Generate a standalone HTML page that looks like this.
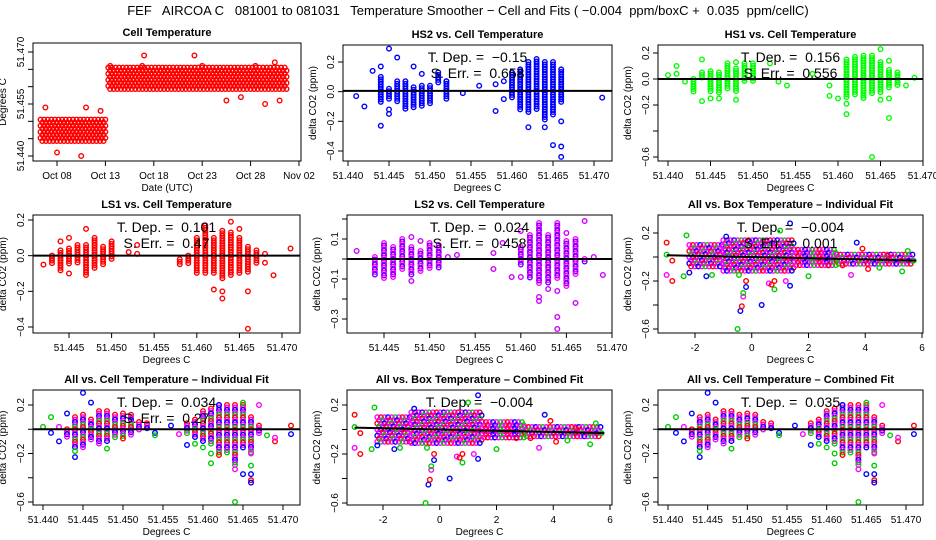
<!DOCTYPE html>
<html><head><meta charset="utf-8"><style>
body{margin:0;background:#fff}
svg{display:block;font-family:"Liberation Sans",sans-serif}
text{white-space:pre}
</style></head><body>
<svg id="c" width="936" height="540" viewBox="0 0 936 540">
<text x="468" y="15" text-anchor="middle" font-size="13">FEF   AIRCOA C   081001 to 081031   Temperature Smoother − Cell and Fits ( −0.004  ppm/boxC +  0.035  ppm/cellC)</text>
</svg>
<script>
// ---------- data ----------
const p1Bands=[[6.3,13.1,51.4435,51.4505],[13.3,31.8,51.4585,51.4655]];
const p1Pts=[[8,51.441],[10.5,51.440],[11,51.454],[6.8,51.454],[12.5,51.453],[17,51.469],[22.2,51.469],[13.5,51.466],[16.8,51.466],[23,51.466],[25.5,51.456],[27,51.457],[29.5,51.455],[30.5,51.467],[31,51.456],[28.5,51.466]];
const hs2Cols=[[51.444,-0.07,0.1],[51.445,-0.05,0.02],[51.446,-0.07,0.07],[51.447,-0.12,0.07],[51.448,-0.11,0.03],[51.449,-0.1,0.04],[51.450,-0.08,0.04],[51.451,0.05,0.13],[51.452,-0.05,0.07],[51.460,-0.05,0.13],[51.461,-0.12,0.15],[51.462,-0.15,0.2],[51.463,-0.13,0.22],[51.464,-0.2,0.2],[51.465,-0.16,0.2],[51.466,-0.08,0.15]];
const hs2Pts=[[51.441,-0.03],[51.442,-0.1],[51.443,0.14],[51.444,0.17],[51.444,-0.23],[51.445,0.29],[51.445,-0.15],[51.445,-0.12],[51.446,0.23],[51.448,0.17],[51.449,0.12],[51.452,0.07],[51.454,-0.01],[51.456,0.04],[51.458,-0.13],[51.458,0.05],[51.459,0.07],[51.459,-0.05],[51.462,-0.24],[51.464,-0.24],[51.465,-0.36],[51.466,-0.37],[51.466,-0.44],[51.466,-0.2],[51.471,-0.04]];
const hs1Cols=[[51.443,-0.1,0],[51.444,0,0.05],[51.445,-0.1,0.06],[51.446,-0.12,0.05],[51.447,-0.08,0.12],[51.448,-0.1,0.08],[51.449,-0.03,0.12],[51.450,-0.03,0.12],[51.461,-0.14,0.15],[51.462,-0.13,0.17],[51.463,-0.15,0.18],[51.464,-0.12,0.18],[51.465,-0.1,0.13],[51.466,-0.07,0.07],[51.467,-0.06,0.05]];
const hs1Pts=[[51.440,0.03],[51.441,0.1],[51.441,0.04],[51.442,-0.02],[51.444,0.15],[51.444,-0.17],[51.445,-0.15],[51.446,-0.15],[51.448,-0.16],[51.448,0.13],[51.452,0.12],[51.453,-0.02],[51.454,-0.05],[51.457,0.04],[51.459,-0.13],[51.459,-0.05],[51.460,-0.15],[51.461,-0.19],[51.461,-0.27],[51.464,-0.6],[51.465,0.23],[51.465,-0.16],[51.466,-0.3],[51.466,0.14],[51.466,-0.15],[51.468,-0.05],[51.469,0.01]];
const ls1Cols=[[51.443,-0.05,0],[51.444,-0.09,0.03],[51.445,-0.05,0.04],[51.446,-0.05,0.06],[51.447,-0.12,0.06],[51.448,-0.08,0.1],[51.449,-0.05,0.05],[51.450,-0.03,0.08],[51.458,-0.06,-0.02],[51.459,-0.05,0],[51.460,-0.1,0.1],[51.461,-0.1,0.17],[51.462,-0.1,0.1],[51.463,-0.13,0.14],[51.464,-0.12,0.13],[51.465,-0.1,0.1],[51.466,-0.1,0.05],[51.467,-0.04,0.03]];
const ls1Pts=[[51.442,-0.05],[51.444,0.08],[51.445,0.1],[51.445,-0.1],[51.447,0.15],[51.452,0.02],[51.453,0.06],[51.453,0.01],[51.462,-0.19],[51.463,-0.2],[51.463,-0.24],[51.464,0.19],[51.465,0.15],[51.466,-0.2],[51.466,-0.41],[51.468,0.01],[51.468,-0.04],[51.469,-0.11],[51.471,0.04]];
const ls2Cols=[[51.444,-0.08,0.01],[51.445,-0.1,0.08],[51.446,-0.1,0.06],[51.447,-0.06,0.1],[51.448,-0.08,0.06],[51.449,-0.07,0.04],[51.450,-0.05,0.08],[51.451,-0.05,0.07],[51.460,-0.03,0.06],[51.461,-0.1,0.12],[51.462,-0.12,0.18],[51.463,-0.12,0.12],[51.464,-0.1,0.18],[51.465,-0.14,0.09],[51.466,-0.08,0.1],[51.467,-0.02,0]];
const ls2Pts=[[51.442,0.04],[51.448,0.11],[51.448,-0.11],[51.449,0.09],[51.452,0.01],[51.453,0.02],[51.457,0.03],[51.457,-0.05],[51.458,0.08],[51.459,-0.09],[51.460,-0.09],[51.460,0.14],[51.462,-0.19],[51.462,-0.21],[51.463,-0.15],[51.464,-0.16],[51.464,-0.29],[51.464,-0.35],[51.465,0.13],[51.466,-0.22],[51.467,0.19],[51.468,0.01],[51.469,-0.08]];
const allCols=[[51.443,-0.08,0],[51.444,-0.15,0.1],[51.445,-0.15,0.12],[51.446,-0.1,0.08],[51.447,-0.12,0.15],[51.448,-0.1,0.15],[51.449,-0.08,0.12],[51.450,-0.08,0.13],[51.451,-0.05,0.12],[51.452,-0.02,0.06],[51.453,0,0.05],[51.458,-0.05,0.05],[51.459,-0.08,0.08],[51.460,-0.1,0.15],[51.461,-0.12,0.17],[51.462,-0.22,0.2],[51.463,-0.2,0.2],[51.464,-0.3,0.2],[51.465,-0.17,0.2],[51.466,-0.2,0.1],[51.467,-0.05,0.03]];
const allPts=[[51.440,0.02,1],[51.441,0.1,1],[51.441,-0.03,2],[51.442,-0.1,2],[51.442,0.02,3],[51.443,0.13,2],[51.444,-0.18,1],[51.444,-0.23,2],[51.445,0.3,2],[51.446,0.22,2],[51.448,-0.16,1],[51.454,-0.03,2],[51.454,-0.05,1],[51.456,0.03,2],[51.457,-0.04,3],[51.458,-0.13,2],[51.459,-0.12,1],[51.460,-0.15,1],[51.461,-0.28,1],[51.461,-0.2,1],[51.464,-0.33,3],[51.464,-0.6,1],[51.465,-0.37,2],[51.466,-0.37,2],[51.466,-0.42,0],[51.466,-0.44,2],[51.466,-0.3,1],[51.466,-0.2,3],[51.467,0.2,3],[51.468,-0.05,1],[51.469,-0.1,0],[51.469,-0.07,3],[51.471,0.03,0],[51.471,-0.04,2],[51.462,0.2,2],[51.465,0.22,1]];
const boxBands=[[-2.2,-1,-0.1,0.1],[-1,1.5,-0.12,0.14],[1.5,3,-0.08,0.06],[3,5.7,-0.06,0.02]];
const boxPts=[[-3,0.12,0],[-3,0.02,1],[-3,-0.15,3],[-2.8,-0.2,0],[-2.8,-0.03,0],[-2.4,-0.16,1],[-2.3,0.18,1],[-2.2,-0.13,2],[-1.6,-0.16,2],[-1.4,-0.15,1],[-0.9,0.17,2],[-0.5,-0.6,1],[-0.45,-0.15,1],[-0.4,-0.45,2],[-0.35,-0.41,0],[-0.3,-0.33,3],[-0.3,-0.3,1],[-0.2,-0.25,2],[-0.2,-0.2,0],[0.35,-0.4,2],[0.6,-0.22,3],[0.7,-0.23,0],[0.8,-0.2,0],[0.8,-0.27,1],[1.2,-0.2,3],[1.35,0.28,2],[1.35,-0.24,2],[1.0,0.22,1],[2,-0.16,1],[3.5,-0.15,3],[3.7,0.12,2],[3.9,0.07,0],[4.1,-0.1,0],[4.5,-0.09,1],[4.8,0.01,0],[5.3,-0.12,1],[5.5,0.05,1],[5.7,-0.03,1],[2.7,-0.07,0],[3.2,-0.07,0]];
const boxLine=[[-3,0.015],[5.8,-0.03]];
const dateTicks=[8,13,18,23,28,33];
const dateLabels=["Oct 08","Oct 13","Oct 18","Oct 23","Oct 28","Nov 02"];
const cellTicks=[51.440,51.445,51.450,51.455,51.460,51.465,51.470];
const boxTicks=[-2,0,2,4,6];
const colors=["#f00","#0c0","#00f","#f0f"];

// ---------- drawing ----------
const svg=document.getElementById('c');
const NS='http://www.w3.org/2000/svg';
function el(tag,at,parent){const e=document.createElementNS(NS,tag);for(const k in at)e.setAttribute(k,at[k]);(parent||svg).appendChild(e);return e;}
function panel(cfg){
  const g=el('g',{});
  
  
  const X=v=>cfg.xp[0]+(v-cfg.xd[0])*(cfg.xp[1]-cfg.xp[0])/(cfg.xd[1]-cfg.xd[0]);
  const Y=v=>cfg.yp[0]+(v-cfg.yd[0])*(cfg.yp[1]-cfg.yp[0])/(cfg.yd[1]-cfg.yd[0]);
  cfg.X=X;cfg.Y=Y;cfg.g=g;
  const t=el('text',{x:(cfg.L+cfg.R)/2,y:cfg.T-7,'text-anchor':'middle','font-size':11,'font-weight':'bold'},g);
  t.textContent=cfg.title;
  
  
  const b=el('rect',{x:cfg.L,y:cfg.T,width:cfg.R-cfg.L,height:cfg.B-cfg.T,fill:'none',stroke:'#000','stroke-width':1},g);
  
  
  const xt=cfg.xticks;
  el('line',{x1:X(xt[0]),x2:X(xt[xt.length-1]),y1:cfg.B,y2:cfg.B,stroke:'#000'},g);
  xt.forEach((v,i)=>{
    el('line',{x1:X(v),x2:X(v),y1:cfg.B,y2:cfg.B+5,stroke:'#000'},g);
    const l=el('text',{x:X(v),y:cfg.B+18,'text-anchor':'middle','font-size':10},g);
    l.textContent=cfg.xlab?cfg.xlab[i]:v.toFixed(cfg.xdec);
    
    
  });
  const xa=el('text',{x:(cfg.L+cfg.R)/2,y:cfg.B+30,'text-anchor':'middle','font-size':10},g);
  xa.textContent=cfg.xtitle;
  
  
  const yt=cfg.yticks;
  el('line',{x1:cfg.L,x2:cfg.L,y1:Y(yt[0]),y2:Y(yt[yt.length-1]),stroke:'#000'},g);
  yt.forEach((v,i)=>{
    el('line',{x1:cfg.L-5,x2:cfg.L,y1:Y(v),y2:Y(v),stroke:'#000'},g);
    if(cfg.ylab[i]){
      const yy=Y(v),xx=cfg.L-9;
      const l=el('text',{x:xx,y:yy,'text-anchor':'middle','font-size':10,transform:`rotate(-90 ${xx} ${yy})`},g);
      l.textContent=cfg.ylab[i];
      
      
    }
  });
  const yx=cfg.L-27,yy=(cfg.T+cfg.B)/2;
  const ya=el('text',{x:yx,y:yy,'text-anchor':'middle','font-size':10,transform:`rotate(-90 ${yx} ${yy})`},g);
  ya.textContent=cfg.ytitle;
  
  
  return cfg;
}
function dot(cfg,x,y,col){
  const c=el('circle',{cx:x,cy:y,r:2.3,fill:'none',stroke:col,'stroke-width':1.4},cfg.g);
  
  
}
function pts(cfg,arr,col){arr.forEach(p=>dot(cfg,cfg.X(p[0]),cfg.Y(p[1]),p.length>2?colors[p[2]]:col));}
function cols(cfg,arr,cl){
  arr.forEach(c=>{
    const x=cfg.X(c[0]);const y0=cfg.Y(c[2]),y1=cfg.Y(c[1]);
    let k=0;for(let y=y0;y<=y1+0.1;y+=2.5,k++)dot(cfg,x,y,Array.isArray(cl)?cl[k%cl.length]:cl);
  });
}
function bands(cfg,arr,cl,step){
  step=step||3.5;
  arr.forEach(b=>{
    const x0=cfg.X(b[0]),x1=cfg.X(b[1]),y0=cfg.Y(b[3]),y1=cfg.Y(b[2]);
    let k=0,row=0;
    for(let y=y0;y<=y1;y+=step*0.85,row++){
      for(let x=x0+(row%2?step/2:0);x<=x1;x+=step,k++)dot(cfg,x,y,Array.isArray(cl)?cl[k%cl.length]:cl);
    }
  });
}
function hline(cfg,y,w){
  const l=el('line',{x1:cfg.L,x2:cfg.R,y1:cfg.Y(y),y2:cfg.Y(y),stroke:'#000','stroke-width':w||2},cfg.g);
  
  
}
function fitline(cfg,seg){
  const l=el('line',{x1:cfg.X(seg[0][0]),x2:cfg.X(seg[1][0]),y1:cfg.Y(seg[0][1]),y2:cfg.Y(seg[1][1]),stroke:'#000','stroke-width':2},cfg.g);
  
  
}
function note(cfg,lines){
  lines.forEach((s,i)=>{
    const t=el('text',{x:(cfg.L+cfg.R)/2,y:cfg.T+17+i*16,'text-anchor':'middle','font-size':14},cfg.g);
    t.textContent=s;
    
    
  });
}
const Y2=["0.2","0.0","−0.2","−0.4"], Y6=["0.2","","−0.2","","−0.6"], yT6=[0.2,0,-0.2,-0.4,-0.6];
let p=panel({name:'cell-temperature-panel',title:'Cell Temperature',L:33,R:301,T:43,B:161,xd:[8,33],xp:[57,299],yd:[51.470,51.440],yp:[52,156],
  xticks:dateTicks,xlab:dateLabels,xtitle:'Date (UTC)',yticks:cellTicks,ylab:["51.440","","","51.455","","","51.470"],ytitle:'Degrees C'});
bands(p,p1Bands,'#f00',3.6);pts(p,p1Pts,'#f00');
p=panel({name:'hs2-panel',title:'HS2 vs. Cell Temperature',L:343,R:612,T:45,B:161,xd:[51.440,51.470],xp:[348,594],yd:[0.2,-0.4],yp:[62,151],
  xticks:cellTicks,xdec:3,xtitle:'Degrees C',yticks:[0.2,0,-0.2,-0.4],ylab:Y2,ytitle:'delta CO2 (ppm)'});
cols(p,hs2Cols,'#00f');pts(p,hs2Pts,'#00f');hline(p,0.005);note(p,['T. Dep. =  −0.15','S. Err. =  0.658']);
p=panel({name:'hs1-panel',title:'HS1 vs. Cell Temperature',L:658,R:923,T:45,B:161,xd:[51.440,51.470],xp:[668,923],yd:[0.2,-0.6],yp:[53,157],
  xticks:cellTicks,xdec:3,xtitle:'Degrees C',yticks:yT6,ylab:["0.2","0.0","−0.2","","−0.6"],ytitle:'delta CO2 (ppm)'});
cols(p,hs1Cols,'#0f0');pts(p,hs1Pts,'#0f0');hline(p,0);note(p,['T. Dep. =  0.156','S. Err. =  0.556']);
p=panel({name:'ls1-panel',title:'LS1 vs. Cell Temperature',L:33,R:300,T:215,B:333,xd:[51.445,51.470],xp:[69,282],yd:[0.2,-0.4],yp:[220,327],
  xticks:cellTicks.slice(1),xdec:3,xtitle:'Degrees C',yticks:[0.2,0,-0.2,-0.4],ylab:Y2,ytitle:'delta CO2 (ppm)'});
cols(p,ls1Cols,'#f00');pts(p,ls1Pts,'#f00');hline(p,0);note(p,['T. Dep. =  0.101','S. Err. =  0.47']);
p=panel({name:'ls2-panel',title:'LS2 vs. Cell Temperature',L:347,R:612,T:215,B:333,xd:[51.445,51.470],xp:[384,612],yd:[0.1,-0.3],yp:[239,319],
  xticks:cellTicks.slice(1),xdec:3,xtitle:'Degrees C',yticks:[0.2,0.1,0,-0.1,-0.2,-0.3],ylab:["","0.1","","−0.1","","−0.3"],ytitle:'delta CO2 (ppm)'});
cols(p,ls2Cols,['#f0f','#60f']);pts(p,ls2Pts,'#c0f');hline(p,0);note(p,['T. Dep. =  0.024','S. Err. =  0.458']);
p=panel({name:'all-box-individual-panel',title:'All vs. Box Temperature – Individual Fit',L:658,R:923,T:215,B:333,xd:[-2,6],xp:[695,922],yd:[0.2,-0.6],yp:[233,329],
  xticks:boxTicks,xdec:0,xtitle:'Degrees C',yticks:yT6,ylab:Y6,ytitle:'delta CO2 (ppm)'});
bands(p,boxBands,['#f0f','#f00','#f0f','#00f','#f0f','#0c0'],3.6);pts(p,boxPts);fitline(p,boxLine);note(p,['T. Dep. =  −0.004','S. Err. =  0.001']);
p=panel({name:'all-cell-individual-panel',title:'All vs. Cell Temperature – Individual Fit',L:33,R:300,T:390,B:505,xd:[51.440,51.470],xp:[43,283],yd:[0.2,-0.6],yp:[405,502],
  xticks:cellTicks,xdec:3,xtitle:'Degrees C',yticks:yT6,ylab:Y6,ytitle:'delta CO2 (ppm)'});
cols(p,allCols,['#f00','#f0f','#00f','#f0f','#0c0']);pts(p,allPts);hline(p,0);note(p,['T. Dep. =  0.034','S. Err. =  0.27']);
p=panel({name:'all-box-combined-panel',title:'All vs. Box Temperature – Combined Fit',L:347,R:612,T:390,B:505,xd:[-2,6],xp:[383,610],yd:[0.2,-0.6],yp:[405,503],
  xticks:boxTicks,xdec:0,xtitle:'Degrees C',yticks:yT6,ylab:Y6,ytitle:'delta CO2 (ppm)'});
bands(p,boxBands,['#f0f','#f00','#f0f','#00f','#f0f','#0c0'],3.6);pts(p,boxPts);fitline(p,boxLine);note(p,['T. Dep. =  −0.004']);
p=panel({name:'all-cell-combined-panel',title:'All vs. Cell Temperature – Combined Fit',L:658,R:923,T:390,B:505,xd:[51.440,51.470],xp:[668,906],yd:[0.2,-0.6],yp:[405,502],
  xticks:cellTicks,xdec:3,xtitle:'Degrees C',yticks:yT6,ylab:Y6,ytitle:'delta CO2 (ppm)'});
cols(p,allCols,['#f00','#f0f','#00f','#f0f','#0c0']);pts(p,allPts);hline(p,0);note(p,['T. Dep. =  0.035']);
</script>
</body></html>
